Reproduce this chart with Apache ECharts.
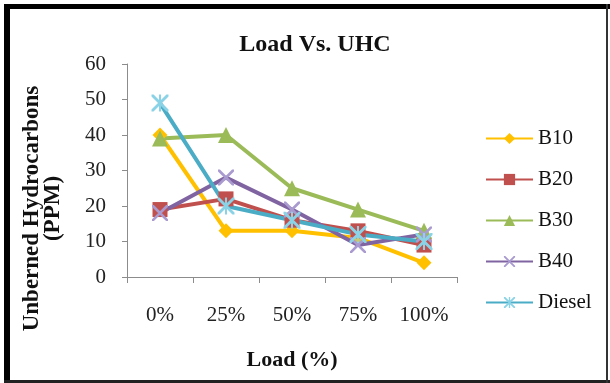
<!DOCTYPE html>
<html>
<head>
<meta charset="utf-8">
<script src="https://cdn.jsdelivr.net/npm/echarts@6/dist/echarts.min.js"></script>
<style>html,body{margin:0;padding:0;background:#fff}#c{width:610px;height:383px}</style>
</head>
<body>
<div id="c"></div>
<script>
var categories = ['0%', '25%', '50%', '75%', '100%'];
var b10 = [40, 13, 13, 11, 4];
var b20 = [19, 22, 16, 13, 9];
var b30 = [39, 40, 25, 19, 13];
var b40 = [18, 28, 19, 9, 12];
var diesel = [49, 20, 16, 12, 10];
var yTicks = [0, 10, 20, 30, 40, 50, 60];

var FONT = '"Liberation Serif", "Times New Roman", serif';
var X_PATH = 'path://M0,0 L1.2,0 L10,8.8 L10,10 L8.8,10 L0,1.2 Z M8.8,0 L10,0 L10,1.2 L1.2,10 L0,10 L0,8.8 Z';
var STAR_PATH = 'path://M0,0 L1.2,0 L10,8.8 L10,10 L8.8,10 L0,1.2 Z M8.8,0 L10,0 L10,1.2 L1.2,10 L0,10 L0,8.8 Z M4.4,0 L5.6,0 L5.6,10 L4.4,10 Z';

function mk(name, data, lineColor, symColor, symbol, size) {
  return {
    name: name, type: 'line', data: data,
    symbol: symbol, symbolSize: size,
    lineStyle: { color: lineColor, width: 4 },
    itemStyle: { color: symColor },
    emphasis: { disabled: true },
    z: 2
  };
}

var chart = echarts.init(document.getElementById('c'));
chart.setOption({
  animation: false,
  backgroundColor: '#fff',
  title: {
    text: 'Load Vs. UHC', left: 310, top: 28, textAlign: 'center',
    textStyle: { fontFamily: FONT, fontSize: 24, fontWeight: 'bold', color: '#111' }
  },
  grid: { left: 127, right: 153, top: 64, bottom: 106 },
  legend: {
    orient: 'vertical', left: 485, top: 128, padding: 0,
    itemWidth: 47, itemHeight: 14, itemGap: 20,
    textStyle: { fontFamily: FONT, fontSize: 21, color: '#111', lineHeight: 21 },
    data: ['B10', 'B20', 'B30', 'B40', 'Diesel']
  },
  xAxis: {
    type: 'category', data: categories, boundaryGap: true,
    axisLine: { lineStyle: { color: '#8c8c8c', width: 1 } },
    axisTick: { show: true, length: 6, interval: 0, lineStyle: { color: '#8c8c8c' } },
    axisLabel: { margin: 28, fontFamily: FONT, fontSize: 21, color: '#222', interval: 0 },
    name: 'Load (%)', nameLocation: 'middle', nameGap: 72,
    nameTextStyle: { fontFamily: FONT, fontSize: 22, fontWeight: 'bold', color: '#111' }
  },
  yAxis: {
    type: 'value', min: yTicks[0], max: yTicks[yTicks.length - 1], interval: 10,
    splitLine: { show: false },
    axisLine: { show: true, lineStyle: { color: '#8c8c8c', width: 1 } },
    axisTick: { show: true, length: 5, lineStyle: { color: '#8c8c8c' } },
    axisLabel: { margin: 21, fontFamily: FONT, fontSize: 21, color: '#222' },
    name: 'Unberned Hydrocarbons\n(PPM)', nameLocation: 'middle', nameGap: 63, nameRotate: 90,
    nameTextStyle: { fontFamily: FONT, fontSize: 23, fontWeight: 'bold', color: '#111', lineHeight: 21, padding: [0, 76, 0, 0] }
  },
  series: [
    mk('B10', b10, '#FFC000', '#FFC000', 'diamond', 15),
    mk('B20', b20, '#C0504D', '#C0504D', 'rect', 15),
    mk('B30', b30, '#9BBB59', '#9BBB59', 'triangle', 16),
    mk('B40', b40, '#8064A2', '#A99BD0', X_PATH, 16),
    mk('Diesel', diesel, '#4BACC6', '#8AD3E6', STAR_PATH, 17)
  ],
  graphic: [
    { type: 'rect', shape: { x: 4, y: 4, width: 606, height: 5 }, style: { fill: '#000' }, silent: true },
    { type: 'rect', shape: { x: 4, y: 4, width: 6, height: 379 }, style: { fill: '#000' }, silent: true },
    { type: 'rect', shape: { x: 4, y: 380, width: 606, height: 3 }, style: { fill: '#222' }, silent: true },
    { type: 'rect', shape: { x: 606, y: 4, width: 2, height: 379 }, style: { fill: '#333' }, silent: true }
  ]
});
</script>
</body>
</html>
